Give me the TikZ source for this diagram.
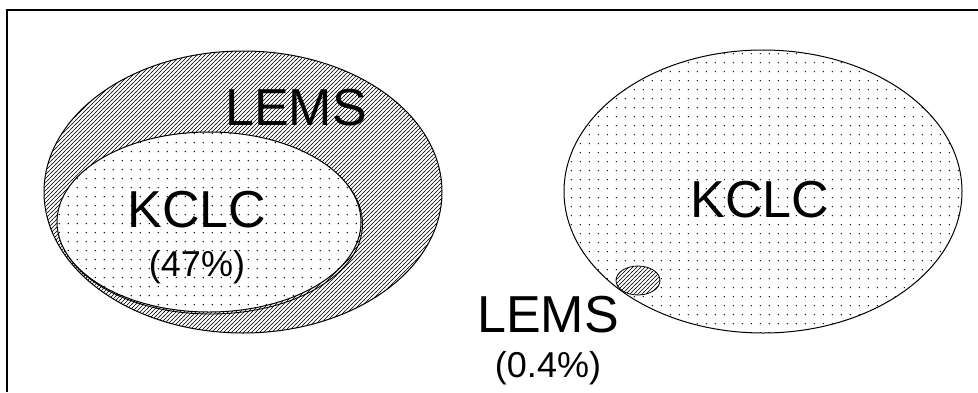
\documentclass[tikz,border=0pt]{standalone}
\usepackage{fontspec}
\setmainfont{Liberation Sans}
\usetikzlibrary{patterns.meta}
\tikzdeclarepattern{name=kdots, type=uncolored,
  bounding box={(0pt,0pt) and (9.3pt,9.3pt)},
  tile size={(9.3pt,9.3pt)},
  code={\fill (4.65pt,4.65pt) circle (0.8pt);}}
\tikzdeclarepattern{name=lhatch, type=uncolored,
  bounding box={(-0.5pt,-0.5pt) and (4.5pt,4.5pt)},
  tile size={(4pt,4pt)},
  code={\draw[line width=0.55pt] (-0.5pt,-0.5pt) -- (4.5pt,4.5pt);}}
\tikzset{
  lemsset/.style={draw=black, line width=1pt, preaction={fill=white}, pattern=lhatch, pattern color=black},
  kclcset/.style={draw=black, line width=1pt, preaction={fill=white}, pattern=kdots, pattern color=black},
  bigtxt/.style={anchor=base, inner sep=0pt, font=\fontsize{52}{52}\selectfont},
  pcttxt/.style={anchor=base, inner sep=0pt, font=\fontsize{36}{36}\selectfont},
}
\begin{document}
\begin{tikzpicture}[x=1pt,y=-1pt]
\useasboundingbox[fill=white] (0,0) rectangle (978,392);
% frame
\draw[line width=2pt] (7,392) -- (7,10) -- (978,10);
% left: LEMS containing KCLC
\path[lemsset] (243,192) ellipse [x radius=199pt, y radius=141pt];
\node[bigtxt] (lemsL) at (296,125) {LEMS};
\draw[line width=0.9pt] (210.5,224) ellipse [x radius=152pt, y radius=90pt];
\path[kclcset] (209,222) ellipse [x radius=152pt, y radius=90pt];
\node[bigtxt] (kclcL) at (197,227) {KCLC};
\node[pcttxt] (pctL) at (197,276) {(47\%)};
% right: KCLC containing tiny LEMS
\path[kclcset] (763,191.5) ellipse [x radius=199pt, y radius=141.5pt];
\path[lemsset, line width=0.8pt] (638,280.5) ellipse [x radius=22pt, y radius=14.5pt];
\node[bigtxt] (kclcR) at (760,217) {KCLC};
\node[bigtxt] (lemsR) at (548,332) {LEMS};
\node[pcttxt] (pctR) at (548,377) {(0.4\%)};
\end{tikzpicture}
\end{document}
